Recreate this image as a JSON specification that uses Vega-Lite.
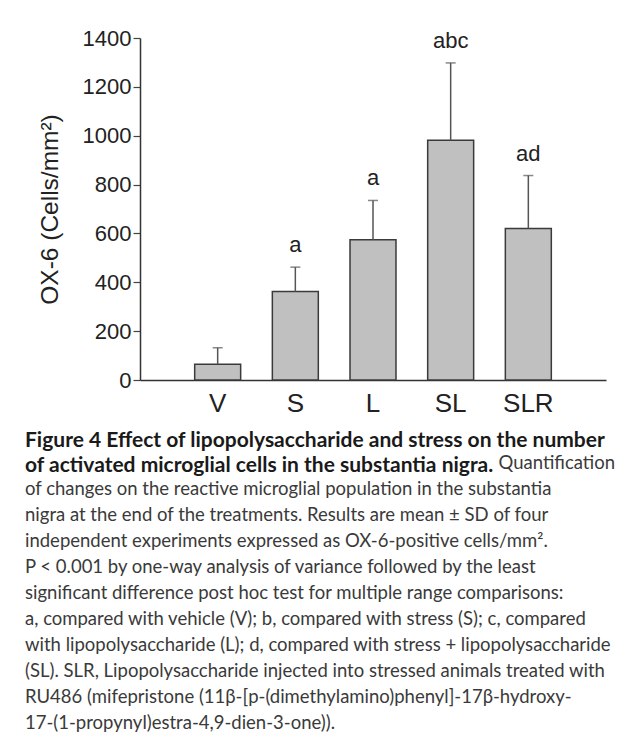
{
  "$schema": "https://vega.github.io/schema/vega-lite/v6.json",
  "autosize": {"type": "none"},
  "width": 466,
  "height": 342,
  "padding": {"left": 140, "top": 38, "right": 23, "bottom": 369},
  "background": "white",
  "config": {"view": {"stroke": null}},
  "title": {
    "text": ["Figure 4 Effect of lipopolysaccharide and stress on the number", "of activated microglial cells in the substantia nigra."],
    "subtitle": [
      "\u200b\u00a0\u00a0\u00a0\u00a0\u00a0\u00a0\u00a0\u00a0\u00a0\u00a0\u00a0\u00a0\u00a0\u00a0\u00a0\u00a0\u00a0\u00a0\u00a0\u00a0\u00a0\u00a0\u00a0\u00a0\u00a0\u00a0\u00a0\u00a0\u00a0\u00a0\u00a0\u00a0\u00a0\u00a0\u00a0\u00a0\u00a0\u00a0\u00a0\u00a0\u00a0\u00a0\u00a0\u00a0\u00a0\u00a0\u00a0\u00a0\u00a0\u00a0\u00a0\u00a0\u00a0\u00a0\u00a0\u00a0\u00a0\u00a0\u00a0\u00a0\u00a0\u00a0\u00a0\u00a0\u00a0\u00a0\u00a0\u00a0\u00a0\u00a0\u00a0\u00a0\u00a0\u00a0\u00a0\u00a0\u00a0\u00a0\u00a0\u00a0\u00a0\u00a0\u00a0\u00a0\u00a0\u00a0\u00a0\u00a0\u00a0\u00a0\u00a0\u00a0\u00a0\u00a0\u00a0\u00a0\u00a0\u00a0\u00a0\u00a0Quantification",
      "of changes on the reactive microglial population in the substantia",
      "nigra at the end of the treatments. Results are mean ± SD of four",
      "independent experiments expressed as OX-6-positive cells/mm².",
      "P < 0.001 by one-way analysis of variance followed by the least",
      "significant difference post hoc test for multiple range comparisons:",
      "a, compared with vehicle (V); b, compared with stress (S); c, compared",
      "with lipopolysaccharide (L); d, compared with stress + lipopolysaccharide",
      "(SL). SLR, Lipopolysaccharide injected into stressed animals treated with",
      "RU486 (mifepristone (11β-[p-(dimethylamino)phenyl]-17β-hydroxy-",
      "17-(1-propynyl)estra-4,9-dien-3-one))."
    ],
    "orient": "bottom",
    "anchor": "start",
    "frame": "group",
    "dx": -115,
    "offset": 14,
    "font": "Lato",
    "fontSize": 21,
    "fontWeight": "bold",
    "color": "#1a1a1a",
    "lineHeight": 25,
    "subtitleFont": "Lato",
    "subtitleFontSize": 18.5,
    "subtitleFontWeight": "normal",
    "subtitleColor": "#3a3a3a",
    "subtitleLineHeight": 26,
    "subtitlePadding": -22
  },
  "data": {
    "values": [
      {"group": "V", "mean": 64, "top": 132, "sig": ""},
      {"group": "S", "mean": 362, "top": 462, "sig": "a"},
      {"group": "L", "mean": 574, "top": 735, "sig": "a"},
      {"group": "SL", "mean": 981, "top": 1298, "sig": "abc"},
      {"group": "SLR", "mean": 620, "top": 837, "sig": "ad"}
    ]
  },
  "encoding": {
    "x": {
      "field": "group",
      "type": "nominal",
      "sort": ["V", "S", "L", "SL", "SLR"],
      "scale": {"paddingInner": 0.408, "paddingOuter": 0.704},
      "axis": {
        "title": null,
        "labelAngle": 0,
        "labelFont": "Liberation Sans",
        "labelFontSize": 26,
        "labelColor": "#222",
        "labelPadding": 10,
        "ticks": false,
        "domainColor": "#333",
        "domainWidth": 1.5
      }
    }
  },
  "layer": [
    {
      "mark": {"type": "bar", "fill": "#c0c0c0", "stroke": "#3a3a3a", "strokeWidth": 1.5},
      "encoding": {
        "y": {
          "field": "mean",
          "type": "quantitative",
          "scale": {"domain": [0, 1400], "nice": false},
          "axis": {
            "title": "OX-6 (Cells/mm²)",
            "titleFont": "Liberation Sans",
            "titleFontSize": 24.5,
            "titleFontWeight": "normal",
            "titleColor": "#222",
            "titlePadding": 20,
            "values": [0, 50, 100, 150, 200, 250, 300, 350, 400, 450, 500, 550, 600, 650, 700, 750, 800, 850, 900, 950, 1000, 1050, 1100, 1150, 1200, 1250, 1300, 1350, 1400],
            "format": "d",
            "labelExpr": "datum.value % 200 === 0 ? datum.label : ''",
            "labelOverlap": false,
            "labelFlush": false,
            "labelFont": "Liberation Sans",
            "labelFontSize": 22,
            "labelColor": "#222",
            "labelPadding": 2,
            "grid": false,
            "domainColor": "#333",
            "domainWidth": 1.5,
            "tickColor": "#444",
            "tickWidth": 1.2,
            "tickSize": {"condition": {"test": "datum.value % 200 === 0", "value": 7}, "value": 3}
          }
        }
      }
    },
    {
      "mark": {"type": "rule", "color": "#555", "strokeWidth": 1.5},
      "encoding": {"y": {"field": "mean", "type": "quantitative"}, "y2": {"field": "top"}}
    },
    {
      "mark": {"type": "tick", "color": "#555", "thickness": 1.5, "size": 10},
      "encoding": {"y": {"field": "top", "type": "quantitative"}}
    },
    {
      "mark": {"type": "text", "font": "Liberation Sans", "fontSize": 22, "color": "#222", "baseline": "alphabetic", "dy": -15},
      "encoding": {"y": {"field": "top", "type": "quantitative"}, "text": {"field": "sig"}}
    }
  ]
}
